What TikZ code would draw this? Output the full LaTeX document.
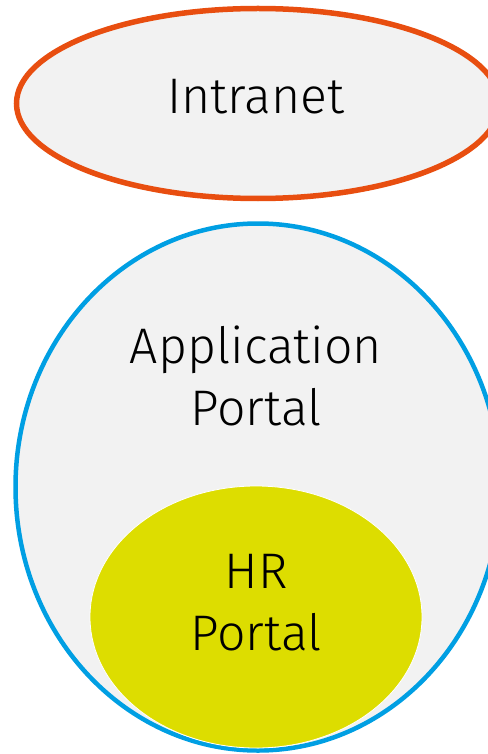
\documentclass[tikz,border=0pt]{standalone}
\usepackage{fontspec}
\setmainfont{Fira Sans}[UprightFont=* Light]
\usetikzlibrary{shapes.geometric,positioning}

\definecolor{lightgrey}{HTML}{F2F2F2}
\definecolor{intraorange}{HTML}{E84E10}
\definecolor{portalblue}{HTML}{009FE3}
\definecolor{hryellow}{HTML}{DDDD00}

\begin{document}
\begin{tikzpicture}[x=1pt,y=-1pt,
    area/.style={ellipse,inner sep=0pt,fill=lightgrey},
    label text/.style={font=\fontsize{50}{62}\selectfont,align=center,inner sep=0pt}]
    \useasboundingbox (0,0) rectangle (487,754);

    \node[area,draw=intraorange,line width=5.5pt,minimum width=483pt,minimum height=190pt] (intranet) at (258,103.5) {};
    \node[area,draw=portalblue,line width=4.5pt,minimum width=485pt,minimum height=527pt] (appportal) at (258,487) {};
    \node[ellipse,inner sep=0pt,fill=hryellow,draw=white,line width=0.8pt,minimum width=332pt,minimum height=262pt] (hrportal) at (256,617) {};

    \node[label text] (intralabel) at (256,97) {Intranet};
    \node[label text] (applabel)   at (256,376) {Application\\Portal};
    \node[label text] (hrlabel)    at (256,603) {HR\\Portal};
\end{tikzpicture}
\end{document}
